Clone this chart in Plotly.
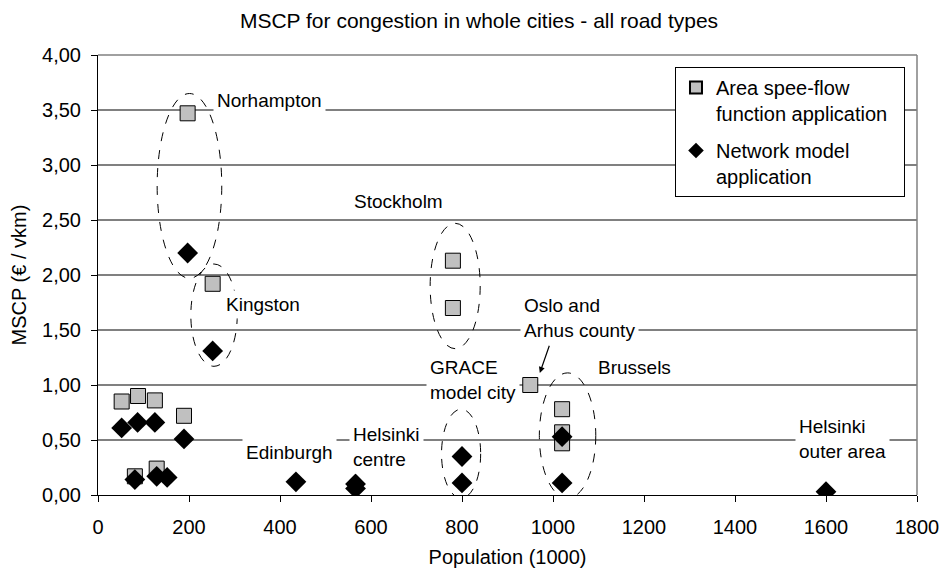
import plotly.graph_objects as go

# area speed-flow function application (squares)
area_pop = [52, 88, 125, 189, 81, 129, 197, 252, 780, 780, 950, 1020, 1020, 1020]
area_mscp = [0.85, 0.90, 0.86, 0.72, 0.17, 0.24, 3.47, 1.92, 2.13, 1.70, 1.00, 0.78, 0.57, 0.47]

# network model application (diamonds)
net_pop = [52, 87, 125, 189, 81, 129, 152, 197, 252, 435, 566, 566, 800, 800, 1020, 1020, 1600]
net_mscp = [0.61, 0.66, 0.66, 0.51, 0.14, 0.17, 0.16, 2.20, 1.31, 0.12, 0.10, 0.06, 0.35, 0.11, 0.53, 0.11, 0.03]

y_tickvals = [0, 0.5, 1, 1.5, 2, 2.5, 3, 3.5, 4]
y_ticktext = ["0,00", "0,50", "1,00", "1,50", "2,00", "2,50", "3,00", "3,50", "4,00"]
x_tickvals = [0, 200, 400, 600, 800, 1000, 1200, 1400, 1600, 1800]

# city labels: (text, x, y)
city_labels = [
    ("Norhampton", 378, 3.59),
    ("Stockholm", 660, 2.67),
    ("Kingston", 363, 1.73),
    ("Oslo and<br>Arhus county", 1058, 1.61),
    ("Brussels", 1180, 1.16),
    ("GRACE<br>model city", 824, 1.05),
    ("Edinburgh", 420, 0.39),
    ("Helsinki<br>centre", 634, 0.44),
    ("Helsinki<br>outer area", 1636, 0.51),
]

# dashed ellipses round city groups: (x0, x1, y0, y1)
ellipses = [
    (130, 272, 1.97, 3.65),
    (204, 306, 1.17, 2.10),
    (730, 840, 1.33, 2.47),
    (755, 841, -0.03, 0.78),
    (970, 1094, -0.03, 1.11),
]

FONT = "Liberation Sans, Arial, sans-serif"

fig = go.Figure()

fig.add_trace(
    go.Scatter(
        x=area_pop,
        y=area_mscp,
        mode="markers",
        name="Area spee-flow<br>function application\u00a0\u00a0",
        marker=dict(symbol="square", size=15, color="#c0c0c0", line=dict(color="black", width=1)),
        legendgroup="a",
    )
)
fig.add_trace(
    go.Scatter(
        x=net_pop,
        y=net_mscp,
        mode="markers",
        name="Network model<br>application",
        marker=dict(symbol="diamond", size=16, color="black", line=dict(color="black", width=0)),
        legendgroup="b",
    )
)

for x0, x1, y0, y1 in ellipses:
    fig.add_shape(
        type="circle", xref="x", yref="y", x0=x0, x1=x1, y0=y0, y1=y1,
        line=dict(color="black", width=1, dash="dash"), layer="above",
    )

for text, x, y in city_labels:
    fig.add_annotation(
        x=x, y=y, text=text, showarrow=False, align="left",
        font=dict(family=FONT, size=19, color="black"),
        bgcolor="white", borderpad=3,
    )

# arrow pointing to Oslo / Arhus
fig.add_annotation(
    x=971, y=1.11, ax=993, ay=1.37, axref="x", ayref="y", xref="x", yref="y",
    text="", showarrow=True, arrowhead=2, arrowsize=1, arrowwidth=1.2, arrowcolor="black",
)

# grey frame on the top and right of the plot area
fig.add_shape(type="line", xref="paper", yref="paper", x0=1, x1=1, y0=0, y1=1,
              line=dict(color="#808080", width=1.5))
fig.add_shape(type="line", xref="paper", yref="paper", x0=0, x1=1, y0=1, y1=1,
              line=dict(color="#808080", width=1.5))

# the page adds an 8px body margin, so the figure is 8px smaller each way
fig.update_layout(
    width=942,
    height=564,
    margin=dict(l=90, r=33, t=47, b=77),
    paper_bgcolor="white",
    plot_bgcolor="white",
    font=dict(family=FONT, size=20, color="black"),
    title=dict(
        text="MSCP for congestion in whole cities - all road types",
        x=0.5, xref="container", xanchor="center",
        y=0.978, yref="container", yanchor="middle",
        font=dict(family=FONT, size=21, color="black"),
    ),
    xaxis=dict(
        range=[0, 1800],
        tickvals=x_tickvals,
        ticks="outside", ticklen=6, tickcolor="black",
        showline=True, linecolor="black", linewidth=1,
        showgrid=False, zeroline=False,
        tickfont=dict(size=20),
        ticklabelstandoff=8,
        automargin=False,
        title=dict(text="Population (1000)", font=dict(size=20), standoff=12),
    ),
    yaxis=dict(
        range=[0, 4],
        tickvals=y_tickvals,
        ticktext=y_ticktext,
        ticks="outside", ticklen=6, tickcolor="black",
        showline=True, linecolor="black", linewidth=1,
        showgrid=True, gridcolor="#808080", gridwidth=1.5,
        zeroline=False,
        tickfont=dict(size=20),
        ticklabelstandoff=6,
        automargin=False,
        title=dict(text="MSCP (€ / vkm)", font=dict(size=20), standoff=10),
    ),
    showlegend=True,
    legend=dict(
        x=0.7045, y=0.9727, xanchor="left", yanchor="top",
        bgcolor="white", bordercolor="black", borderwidth=1,
        font=dict(family=FONT, size=20),
        valign="top", tracegroupgap=8,
        itemsizing="constant",
    ),
)

fig.write_html("out.html")
